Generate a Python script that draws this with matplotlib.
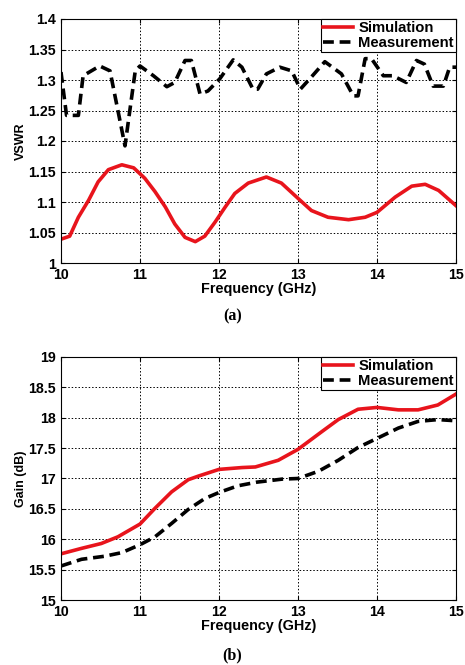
import numpy as np
import matplotlib
matplotlib.use("Agg")
import matplotlib.pyplot as plt

# VSWR data (a)
f_vswr_sim = [10.0, 10.11, 10.22, 10.35, 10.47, 10.6, 10.77, 10.92, 11.06, 11.19,
              11.32, 11.44, 11.57, 11.7, 11.82, 11.95, 12.08, 12.2, 12.37, 12.6,
              12.79, 13.0, 13.17, 13.38, 13.64, 13.85, 14.0, 14.23, 14.44, 14.61,
              14.78, 15.0]
vswr_sim = [1.039, 1.044, 1.075, 1.103, 1.133, 1.153, 1.161, 1.156, 1.139, 1.117,
            1.092, 1.064, 1.042, 1.035, 1.044, 1.067, 1.092, 1.114, 1.131, 1.141,
            1.131, 1.106, 1.086, 1.075, 1.071, 1.075, 1.083, 1.108, 1.126, 1.129,
            1.119, 1.094]

f_vswr_meas = [10.0, 10.07, 10.22, 10.28, 10.49, 10.62, 10.81, 10.94, 11.0, 11.17,
               11.34, 11.44, 11.57, 11.65, 11.76, 11.86, 12.01, 12.18, 12.29, 12.43,
               12.49, 12.6, 12.77, 12.92, 13.03, 13.17, 13.34, 13.55, 13.7, 13.76,
               13.85, 13.93, 14.08, 14.2, 14.37, 14.5, 14.6, 14.71, 14.84, 14.92, 15.0]
vswr_meas = [1.313, 1.242, 1.242, 1.307, 1.323, 1.315, 1.192, 1.315, 1.323, 1.307,
             1.289, 1.296, 1.332, 1.332, 1.277, 1.282, 1.302, 1.333, 1.321, 1.285,
             1.285, 1.31, 1.321, 1.315, 1.285, 1.305, 1.33, 1.31, 1.274, 1.274,
             1.335, 1.335, 1.307, 1.307, 1.296, 1.332, 1.326, 1.29, 1.29, 1.321, 1.321]

# Gain data (b)
f_gain_sim = [10.0, 10.26, 10.51, 10.72, 11.0, 11.19, 11.4, 11.61, 11.74, 12.0,
              12.29, 12.46, 12.75, 13.0, 13.3, 13.51, 13.76, 14.0, 14.27, 14.52,
              14.77, 15.0]
gain_sim = [15.76, 15.85, 15.93, 16.04, 16.25, 16.51, 16.78, 16.98, 17.04, 17.15,
            17.18, 17.19, 17.30, 17.48, 17.77, 17.97, 18.14, 18.17, 18.13, 18.13,
            18.21, 18.39]

f_gain_meas = [10.0, 10.26, 10.55, 10.77, 11.0, 11.19, 11.4, 11.61, 11.82, 12.0,
               12.24, 12.48, 12.8, 13.0, 13.26, 13.51, 13.76, 14.0, 14.27, 14.52,
               14.77, 15.0]
gain_meas = [15.56, 15.67, 15.72, 15.78, 15.91, 16.04, 16.26, 16.49, 16.67, 16.77,
             16.88, 16.94, 16.99, 17.0, 17.12, 17.30, 17.51, 17.66, 17.83, 17.94,
             17.97, 17.95]

freq_ticks = [10, 11, 12, 13, 14, 15]
vswr_ticks = [1, 1.05, 1.1, 1.15, 1.2, 1.25, 1.3, 1.35, 1.4]
vswr_ticklabels = ["1", "1.05", "1.1", "1.15", "1.2", "1.25", "1.3", "1.35", "1.4"]
gain_ticks = [15, 15.5, 16, 16.5, 17, 17.5, 18, 18.5, 19]
gain_ticklabels = ["15", "15.5", "16", "16.5", "17", "17.5", "18", "18.5", "19"]

plt.rcParams['font.family'] = ['Liberation Sans', 'DejaVu Sans']
plt.rcParams['font.weight'] = 'bold'

W, H = 465, 665
fig = plt.figure(figsize=(W / 100, H / 100), dpi=100)


def style_axes(ax, yticks, yticklabels, ylabel):
    ax.set_xlim(10, 15)
    ax.set_xticks(freq_ticks)
    ax.set_xticklabels([str(t) for t in freq_ticks])
    ax.set_yticks(yticks)
    ax.set_yticklabels(yticklabels)
    ax.set_ylim(yticks[0], yticks[-1])
    ax.grid(True, color='black', linestyle=(0, (1.5, 2)), linewidth=0.7)
    ax.tick_params(direction='in', top=True, right=True, labelsize=10.2,
                   length=3)
    ax.tick_params(axis='x', pad=3.5)
    ax.tick_params(axis='y', pad=3.5)
    for lab in ax.get_xticklabels() + ax.get_yticklabels():
        lab.set_fontweight('bold')
    ax.set_xlabel("Frequency (GHz)", fontsize=10.4, fontweight='bold', labelpad=0)
    ax.set_ylabel(ylabel, fontsize=9, fontweight='bold', labelpad=1)
    for s in ax.spines.values():
        s.set_linewidth(0.8)
    leg = ax.legend(loc='upper right', fontsize=10.7, handlelength=2.0,
                    borderaxespad=0, fancybox=False, framealpha=1,
                    edgecolor='black', borderpad=0.15, labelspacing=0.05,
                    handletextpad=0.35)
    leg.get_frame().set_linewidth(0.8)
    for t in leg.get_texts():
        t.set_fontweight('bold')


# (a) VSWR
ax1 = fig.add_axes([61 / W, 1 - 263 / H, 395 / W, 244 / H])
ax1.plot(f_vswr_sim, vswr_sim, color='#e8141c', linewidth=2.6, label='Simulation')
ax1.plot(f_vswr_meas, vswr_meas, color='black', linewidth=2.6,
         linestyle=(0, (3, 1.6)), label='Measurement')
style_axes(ax1, vswr_ticks, vswr_ticklabels, "VSWR")
fig.text(0.5, 1 - 316 / H, "(a)", ha='center', va='center', fontsize=11.5,
         fontweight='bold', family='Liberation Serif')

# (b) Gain
ax2 = fig.add_axes([61 / W, 1 - 600 / H, 395 / W, 243 / H])
ax2.plot(f_gain_sim, gain_sim, color='#e8141c', linewidth=2.6, label='Simulation')
ax2.plot(f_gain_meas, gain_meas, color='black', linewidth=2.6,
         linestyle=(0, (3, 1.6)), label='Measurement')
style_axes(ax2, gain_ticks, gain_ticklabels, "Gain (dB)")
fig.text(0.5, 1 - 655 / H, "(b)", ha='center', va='center', fontsize=11.5,
         fontweight='bold', family='Liberation Serif')

plt.savefig("out.png", dpi=100)
